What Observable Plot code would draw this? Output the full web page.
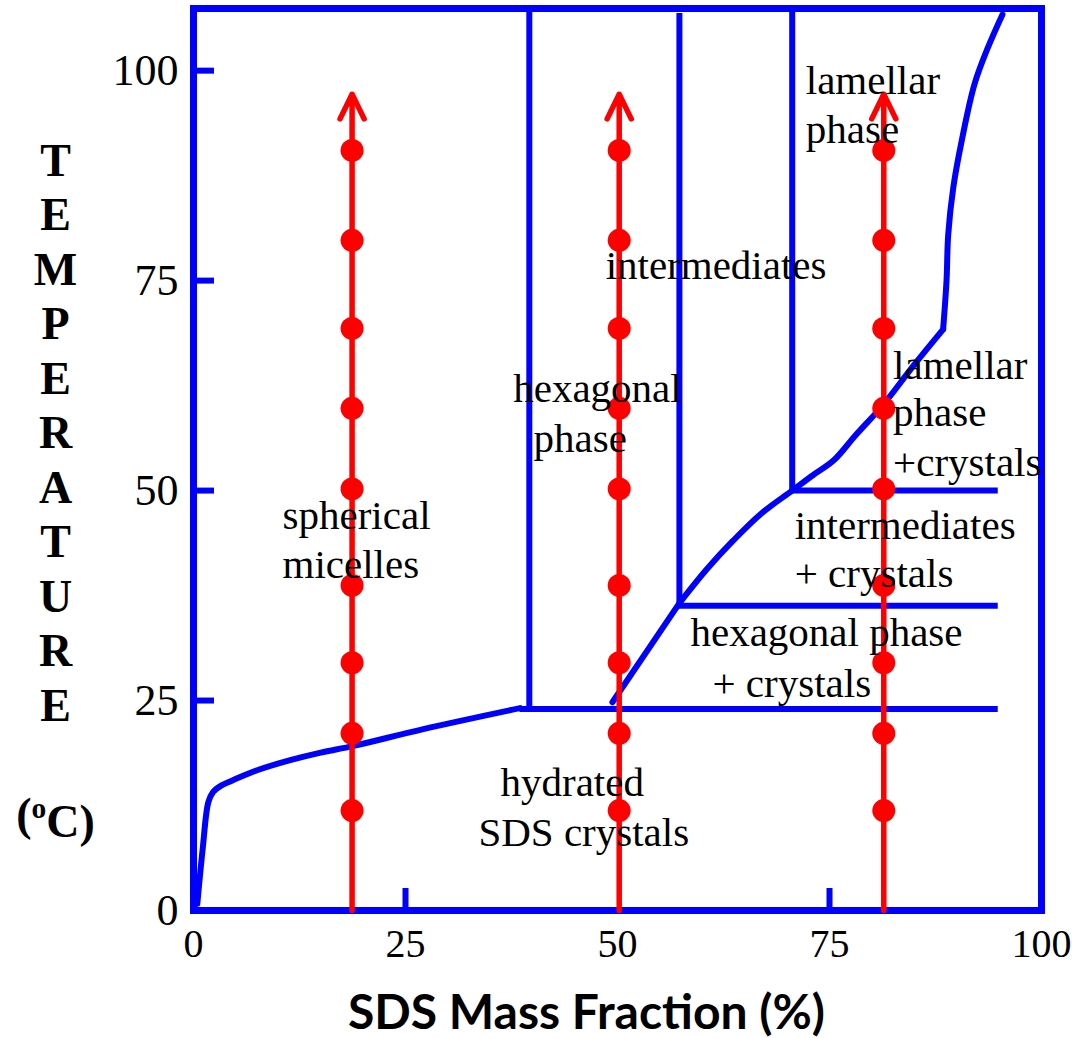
<!DOCTYPE html>
<html>
<head>
<meta charset="utf-8">
<script src="https://cdn.jsdelivr.net/npm/d3@7"></script>
<script src="https://cdn.jsdelivr.net/npm/@observablehq/plot@0.6"></script>
<style>
  html, body { margin: 0; padding: 0; background: #ffffff; }
  #chart { width: 1072px; height: 1038px; }
</style>
</head>
<body>
<div id="chart"></div>
<script>
// ---------------- data ----------------
const massFractionTicks = [0, 25, 50, 75, 100];
const temperatureTicks = [0, 25, 50, 75, 100];
const innerTicksX = [25, 75];
const innerTicksY = [25, 50, 75, 100];

// heating paths (SDS mass fraction, %) and measured temperatures (°C)
const pathColumns = [18.7, 50.2, 81.4];
const pathTemps = [11.9, 21.1, 29.5, 38.7, 50.2, 59.8, 69.3, 79.8, 90.5];
const pathRange = [0, 97.2];

// solubility (Krafft) boundary
const solubilityX = [0.45, 1.1, 1.75, 2.3, 3.3, 4.4, 6.0, 7.5, 11.4, 15.0, 18.9, 27.1, 38.5];
const solubilityY = [0.8, 7.5, 12.9, 14.1, 14.9, 15.4, 16.1, 16.7, 17.9, 18.8, 19.6, 21.6, 24.1];

// crystal boundary of the liquid-crystal phases
const hexBoundaryX = [49.4, 57.3];
const hexBoundaryY = [24.8, 36.6];
const mesoBoundaryX = [57.3, 60.5, 63.6, 67.0, 70.6, 73.0, 75.5, 78.0, 81.4, 85.0, 88.4];
const mesoBoundaryY = [36.6, 40.6, 44.0, 47.3, 50.0, 51.8, 53.6, 56.5, 60.3, 65.0, 69.2];
const lamBoundaryX = [88.4, 88.8, 89.0, 89.6, 90.6, 92.1, 93.7, 95.4];
const lamBoundaryY = [69.2, 75.0, 80.5, 86.1, 91.7, 98.4, 102.8, 106.7];

// straight phase boundaries
const hLineY = [24.0, 36.3, 50.0];
const hLineStart = [38.5, 57.3, 70.6];
const hLineEnd = [94.9, 94.9, 94.9];
const vLineX = [39.6, 57.3, 70.6];
const vLineStart = [24.0, 36.3, 50.0];
const vLineEnd = [107.4, 106.8, 107.4];

// region labels (one entry per text line)
const labelText = ["spherical", "micelles", "hexagonal", "phase", "intermediates",
  "lamellar", "phase", "lamellar", "phase", "+crystals", "intermediates", "+ crystals",
  "hexagonal phase", "+ crystals", "hydrated", "SDS crystals"];
const labelX = [10.5, 10.5, 37.7, 40.1, 48.6, 72.2, 72.2, 82.5, 82.5, 82.5, 70.9, 70.9, 58.6, 61.2, 36.2, 33.6];
const labelY = [47.0, 41.1, 62.1, 56.2, 76.8, 98.8, 92.9, 64.9, 59.3, 53.3, 45.8, 40.1, 33.0, 27.0, 15.2, 9.3];

const yTitleLetters = ["T", "E", "M", "P", "E", "R", "A", "T", "U", "R", "E"];
const yUnit = "(oC)";
const xTitle = "SDS Mass Fraction (%)";

// ---------------- build tables ----------------
const toPts = (xs, ys, seg) => xs.map((x, i) => ({x, y: ys[i], seg}));
const boundaries = [
  ...toPts(solubilityX, solubilityY, "solubility"),
  ...toPts(hexBoundaryX, hexBoundaryY, "hex"),
  ...toPts(mesoBoundaryX, mesoBoundaryY, "meso"),
  ...toPts(lamBoundaryX, lamBoundaryY, "lam")
];
const hLines = hLineY.map((y, i) => ({y, x1: hLineStart[i], x2: hLineEnd[i]}));
const vLines = vLineX.map((x, i) => ({x, y1: vLineStart[i], y2: vLineEnd[i]}));
const dots = pathColumns.flatMap(x => pathTemps.map(y => ({x, y})));
const labels = labelText.map((text, i) => ({text, x: labelX[i], y: labelY[i]}));

// ---------------- chart ----------------
const W = 1072, H = 1038;
const mL = 193, mR = 31, mT = 8, mB = 128;
const plotW = W - mL - mR, plotH = H - mT - mB;
const BLUE = "#0000ff", RED = "#ff0000";
const SERIF = "Liberation Serif, Times New Roman, serif";

const chart = Plot.plot({
  width: W, height: H,
  marginLeft: mL, marginRight: mR, marginTop: mT, marginBottom: mB,
  x: {domain: [0, 100]},
  y: {domain: [0, 107.4]},
  style: {fontFamily: SERIF, background: "#ffffff", color: "#000000"},
  marks: [
    Plot.axisX({ticks: massFractionTicks, tickSize: 0, tickPadding: 18, fontSize: 40, fontFamily: SERIF, label: null, tickFormat: d => String(d)}),
    Plot.axisY({ticks: temperatureTicks, tickSize: 0, tickPadding: 15, fontSize: 44, fontFamily: SERIF, label: null, tickFormat: d => String(d)}),
    Plot.ruleX(innerTicksX, {x: d => d, stroke: BLUE, strokeWidth: 6, insetTop: plotH - 22}),
    Plot.ruleY(innerTicksY, {y: d => d, stroke: BLUE, strokeWidth: 6, insetRight: plotW - 21}),
    Plot.ruleY(hLines, {y: "y", x1: "x1", x2: "x2", stroke: BLUE, strokeWidth: 6}),
    Plot.ruleX(vLines, {x: "x", y1: "y1", y2: "y2", stroke: BLUE, strokeWidth: 6}),
    Plot.line(boundaries, {x: "x", y: "y", z: "seg", curve: "catmull-rom", stroke: BLUE, strokeWidth: 6, strokeLinejoin: "miter"}),
    Plot.frame({stroke: BLUE, strokeWidth: 7}),
    Plot.arrow(pathColumns, {x1: d => d, x2: d => d, y1: pathRange[0], y2: pathRange[1], stroke: RED, strokeWidth: 5.5, headLength: 7.5, headAngle: 52}),
    Plot.dot(dots, {x: "x", y: "y", r: 11.5, fill: RED, stroke: "none"}),
    Plot.text(labels, {x: "x", y: "y", text: "text", textAnchor: "start", lineAnchor: "middle", fontSize: 41, fontFamily: SERIF, fill: "#000000"}),
    Plot.text([yTitleLetters.join("\n")], {text: d => d, frameAnchor: "left", dx: -138, dy: -28.5, lineHeight: 54.5 / 46, textAnchor: "middle", lineAnchor: "middle", fontSize: 46, fontWeight: "bold", fontFamily: SERIF, fill: "#000000"}),
    Plot.text([yUnit], {text: d => d, frameAnchor: "bottom-left", dx: -138, dy: -95, textAnchor: "middle", lineAnchor: "middle", fontSize: 46, fontWeight: "bold", fontFamily: SERIF, fill: "#000000"}),
    Plot.text([xTitle], {text: d => d, frameAnchor: "bottom", dx: -31, dy: 103, textAnchor: "middle", lineAnchor: "middle", fontSize: 48, fontWeight: "bold", fontFamily: "Lato, Open Sans, sans-serif", fill: "#000000"})
  ]
});

document.getElementById("chart").appendChild(chart);

// superscript "o" in the unit label
d3.select(chart).selectAll("text").each(function() {
  if (this.textContent === yUnit && this.childElementCount === 0) {
    const t = d3.select(this);
    t.text("");
    t.append("tspan").text("(");
    t.append("tspan").attr("dy", "-0.42em").attr("font-size", "64%").text("o");
    t.append("tspan").attr("dy", "0.42em").text("C)");
  }
});
</script>
</body>
</html>
